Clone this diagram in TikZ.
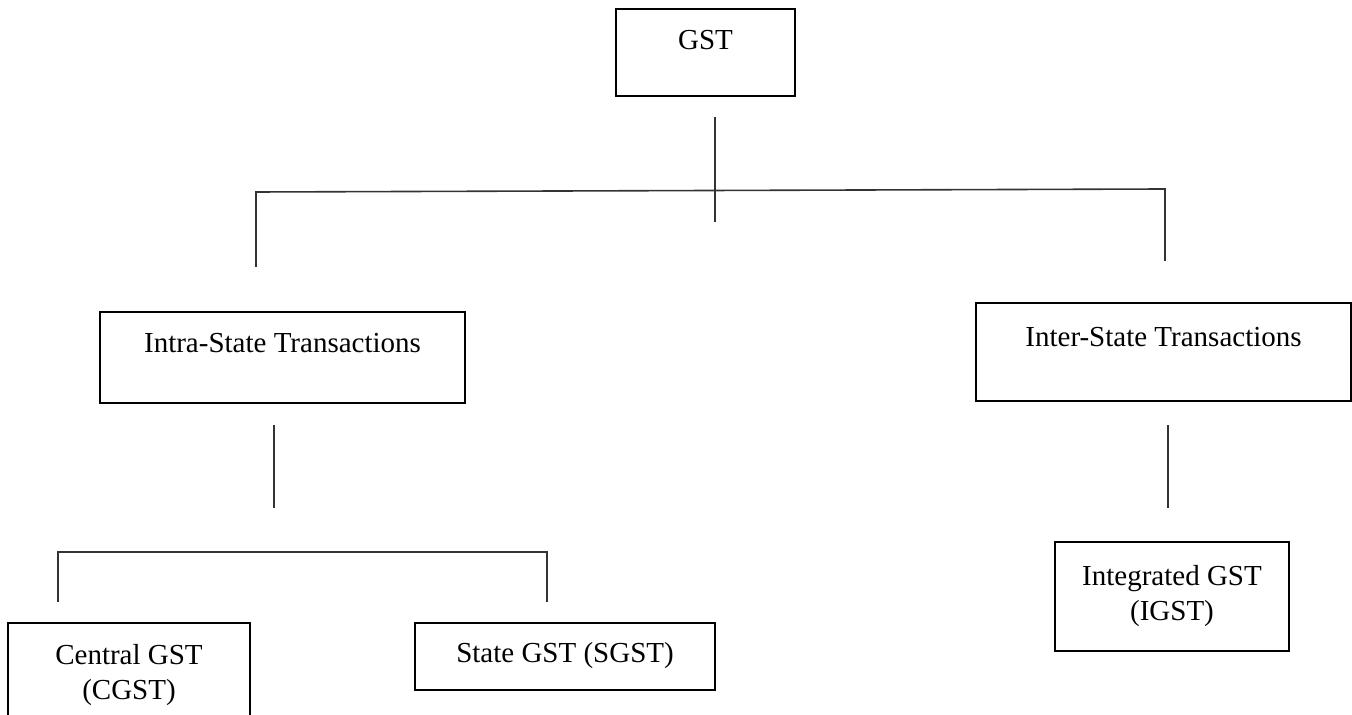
\documentclass[tikz,border=0pt]{standalone}
\usepackage{fontspec}
\setmainfont{Liberation Serif}
\usepackage{tikz}
\usetikzlibrary{calc}

\begin{document}
\begin{tikzpicture}[
        x=0.5pt, y=-0.5pt,
        box/.style={rectangle, draw=black, line width=0.9pt, align=center, inner sep=0pt, font=\fontsize{14.5}{17.5}\selectfont},
        onetext/.style={text height=10pt, text depth=#1},
        link/.style={draw=black!80, line width=0.8pt}
    ]
    \useasboundingbox (0,0) rectangle (1352,715);

    \node[box, onetext=12.9pt, minimum width=89.5pt, minimum height=43.5pt] (gst) at (705.5,52.5) {GST};
    \node[box, onetext=14.9pt, minimum width=182.5pt, minimum height=45.5pt] (intra) at (282.5,357.5) {Intra-State Transactions};
    \node[box, onetext=15.4pt, minimum width=187.5pt, minimum height=49pt] (inter) at (1163.5,352) {Inter-State Transactions};
    \node[box, minimum width=121pt, minimum height=52pt] (cgst) at (129,675) {Central GST\\(CGST)};
    \node[box, onetext=3.9pt, minimum width=150pt, minimum height=33.5pt] (sgst) at (565,656.5) {State GST (SGST)};
    \node[box, minimum width=117pt, minimum height=54.5pt] (igst) at (1172,596.5) {Integrated GST\\(IGST)};

    % top split
    \coordinate (gstdrop) at (715,117);
    \coordinate (gstbar) at (715,222);
    \coordinate (barleft) at (256,192);
    \coordinate (barright) at (1165,189);
    \coordinate (intraup) at (256,267);
    \coordinate (interup) at (1165,261);
    \draw[link] (gstdrop) -- (gstbar);
    \draw[link] (intraup) -- (barleft) -- (barright) -- (interup);

    % below the two kinds
    \coordinate (intradrop) at (274,425);
    \coordinate (intraend) at (274,508);
    \coordinate (interdrop) at (1168,425);
    \coordinate (interend) at (1168,508);
    \draw[link] (intradrop) -- (intraend);
    \draw[link] (interdrop) -- (interend);

    % lower split
    \coordinate (cgstup) at (58,602);
    \coordinate (lowleft) at (58,552);
    \coordinate (lowright) at (547,552);
    \coordinate (sgstup) at (547,602);
    \draw[link] (cgstup) -- (lowleft) -- (lowright) -- (sgstup);

\end{tikzpicture}
\end{document}
